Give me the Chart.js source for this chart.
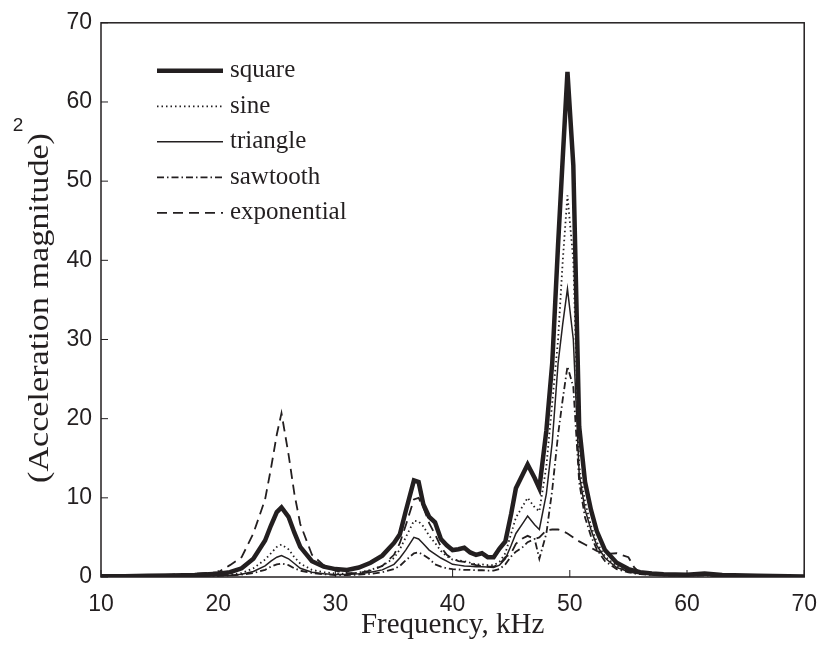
<!DOCTYPE html>
<html>
<head>
<meta charset="utf-8">
<script src="https://cdn.jsdelivr.net/npm/chart.js@4"></script>
<style>
  html, body { margin: 0; padding: 0; background: #fff; }
  #wrap { width: 831px; height: 652px; }
</style>
</head>
<body>
<div id="wrap"><canvas id="myChart" width="831" height="652"></canvas></div>
<script>
// frequency grid, kHz
var freq = [10,12,14,16,18,20,21,22,23,24,
  24.5,25,25.4,26,26.5,27,28,29,30,31,
  32,33,34,35,35.5,36,36.7,37.1,37.5,38,
  38.5,39,39.5,40,40.5,41,41.5,42,42.5,43,
  43.5,44,44.5,45,45.4,46,46.4,47,47.4,48,
  48.5,49,49.4,49.8,50.3,50.8,51.3,51.8,52.3,53,
  54,55,55.5,56,57,58,60,61.5,63,66,70];

// (acceleration magnitude)^2 per waveform
var square = [0.1,0.1,0.15,0.2,0.25,0.4,0.6,1.1,2.3,4.6,
  6.5,8.2,8.8,7.6,5.6,3.8,2.0,1.3,1.0,0.9,
  1.2,1.8,2.7,4.3,5.4,8.3,12.2,12.0,9.2,7.6,
  6.9,4.8,4.0,3.4,3.5,3.7,3.1,2.8,3.0,2.5,
  2.5,3.6,4.5,8.0,11.2,13.0,14.2,12.5,11.2,18.5,
  27,42,53,63.8,52,19,12,8.5,5.8,3.4,
  1.8,1.0,0.8,0.6,0.45,0.35,0.3,0.45,0.25,0.15,0.05];
var sine = [0.05,0.05,0.1,0.1,0.15,0.2,0.3,0.5,1.1,2.2,
  3.0,3.8,4.1,3.5,2.5,1.7,0.9,0.6,0.45,0.4,
  0.55,0.9,1.4,2.4,3.5,5.0,7.1,7.0,6.4,5.2,
  4.3,3.3,2.6,2.2,2.1,2.0,1.8,1.6,1.6,1.5,
  1.5,1.9,3.0,5.5,7.5,9.0,10.0,8.8,8.3,14,
  22,30,40,48.2,40,14,9.5,6.5,4.4,2.6,
  1.4,0.8,0.6,0.5,0.35,0.25,0.2,0.3,0.15,0.1,0.05];
var triangle = [0.05,0.05,0.05,0.1,0.1,0.15,0.2,0.35,0.7,1.4,
  2.0,2.5,2.7,2.3,1.7,1.1,0.6,0.4,0.3,0.3,
  0.4,0.6,0.9,1.6,2.4,3.4,5.0,4.8,4.2,3.4,
  2.9,2.4,2.0,1.6,1.5,1.4,1.35,1.3,1.3,1.25,
  1.2,1.5,2.3,4.0,5.5,6.8,7.7,6.6,6.0,10.5,
  17,27,32,36.4,30,13,8.5,6,4,2.4,
  1.2,0.7,0.5,0.4,0.3,0.2,0.15,0.25,0.1,0.05,0.05];
var sawtooth = [0.05,0.05,0.05,0.1,0.1,0.15,0.2,0.3,0.5,0.9,
  1.3,1.6,1.7,1.5,1.1,0.8,0.5,0.35,0.25,0.25,
  0.3,0.4,0.6,1.0,1.4,2.1,3.0,3.1,2.8,2.3,
  1.6,1.3,1.1,1.0,0.95,0.9,0.9,0.85,0.85,0.8,
  0.8,1.0,1.6,2.6,3.2,3.8,4.4,4.8,2.3,5.5,
  11,18,22.5,26.6,24,12,7.5,5.2,3.5,2.0,
  1.0,0.6,0.45,0.35,0.25,0.2,0.15,0.2,0.1,0.05,0.05];
var exponential = [0.1,0.15,0.2,0.3,0.4,0.6,1.5,2.5,5.5,9.8,
  13.7,18,20.7,15.5,10.5,6.7,2.8,1.5,0.8,0.5,
  0.5,0.8,1.4,2.8,4.3,6.5,9.8,10,8.8,6.8,
  5.4,3.8,2.8,2.3,2.0,1.9,1.7,1.5,1.4,1.3,
  1.3,1.6,2.5,3.0,4.2,4.9,5.2,4.8,5.0,5.9,
  6.0,6.0,5.8,5.5,5.0,4.5,4.1,3.7,3.3,2.9,
  3.0,2.5,1.2,0.5,0.3,0.25,0.2,0.2,0.1,0.05,0.05];

var xTicks = [10, 20, 30, 40, 50, 60, 70];
var yTicks = [0, 10, 20, 30, 40, 50, 60, 70];
var xTitle = 'Frequency, kHz';
var yTitle = '(Acceleration magnitude)';

var ink = '#231f20';

function pts(arr) {
  return freq.map(function (f, i) { return { x: f, y: arr[i] }; });
}

function line(label, arr, width, dash) {
  return {
    label: label,
    data: pts(arr),
    borderColor: ink,
    backgroundColor: ink,
    borderWidth: width,
    borderDash: dash,
    pointRadius: 0,
    tension: 0,
    fill: false
  };
}

// box, inward ticks, titles and legend
var decor = {
  id: 'decor',
  afterDraw: function (chart) {
    var ctx = chart.ctx, a = chart.chartArea;
    var sx = chart.scales.x, sy = chart.scales.y;
    ctx.save();
    ctx.strokeStyle = ink;
    ctx.lineWidth = 1.5;
    ctx.setLineDash([]);
    ctx.strokeRect(a.left, a.top, a.right - a.left, a.bottom - a.top);
    ctx.beginPath();
    xTicks.forEach(function (v) {
      var px = sx.getPixelForValue(v);
      ctx.moveTo(px, a.bottom); ctx.lineTo(px, a.bottom - 7);
    });
    yTicks.forEach(function (v) {
      var py = sy.getPixelForValue(v);
      ctx.moveTo(a.left, py); ctx.lineTo(a.left + 7, py);
    });
    ctx.lineWidth = 1;
    ctx.stroke();

    ctx.fillStyle = ink;
    // x title
    ctx.font = '29px "Liberation Serif"';
    ctx.textAlign = 'center';
    ctx.textBaseline = 'middle';
    ctx.fillText(xTitle, (a.left + a.right) / 2, 625);

    // y title (rotated, stretched lengthwise)
    ctx.save();
    ctx.translate(40, 308);
    ctx.rotate(-Math.PI / 2);
    ctx.font = '30px "Liberation Serif"';
    var w = ctx.measureText(yTitle).width;
    ctx.scale(350 / w, 1);
    ctx.fillText(yTitle, 0, 0);
    ctx.restore();
    ctx.font = '19px "Liberation Sans"';
    ctx.fillText('2', 18, 126);

    // legend
    ctx.textAlign = 'left';
    ctx.font = '25px "Liberation Serif"';
    chart.data.datasets.forEach(function (ds, i) {
      var y = a.top + 48 + i * 35.5;
      ctx.save();
      ctx.strokeStyle = ds.borderColor;
      ctx.lineWidth = ds.borderWidth;
      ctx.setLineDash(ds.borderDash || []);
      ctx.beginPath();
      ctx.moveTo(a.left + 56, y);
      ctx.lineTo(a.left + 122, y);
      ctx.stroke();
      ctx.restore();
      ctx.fillText(ds.label, a.left + 129, y);
    });
    ctx.restore();
  }
};

var myChart = new Chart(document.getElementById('myChart'), {
  type: 'line',
  data: {
    datasets: [
      line('square', square, 4.5, []),
      line('sine', sine, 1.8, [1.5, 3]),
      line('triangle', triangle, 1.5, []),
      line('sawtooth', sawtooth, 1.8, [7, 3, 1.5, 3]),
      line('exponential', exponential, 1.8, [10, 6])
    ]
  },
  options: {
    responsive: false,
    animation: false,
    layout: { padding: { left: 0, right: 18, top: 15, bottom: 0 } },
    plugins: { legend: { display: false }, tooltip: { enabled: false } },
    scales: {
      x: {
        type: 'linear',
        min: 10,
        max: 70,
        afterFit: function (s) { s.height = 75; },
        afterBuildTicks: function (s) { s.ticks = xTicks.map(function (v) { return { value: v }; }); },
        grid: { display: false, drawTicks: false },
        border: { display: false },
        ticks: { color: ink, padding: 14, font: { family: '"Liberation Sans"', size: 23 }, maxRotation: 0 }
      },
      y: {
        min: 0,
        max: 70,
        afterFit: function (s) { s.width = 101; },
        afterBuildTicks: function (s) { s.ticks = yTicks.map(function (v) { return { value: v }; }); },
        grid: { display: false, drawTicks: false },
        border: { display: false },
        ticks: { color: ink, padding: 9, font: { family: '"Liberation Sans"', size: 23 } }
      }
    }
  },
  plugins: [decor]
});
</script>
</body>
</html>
